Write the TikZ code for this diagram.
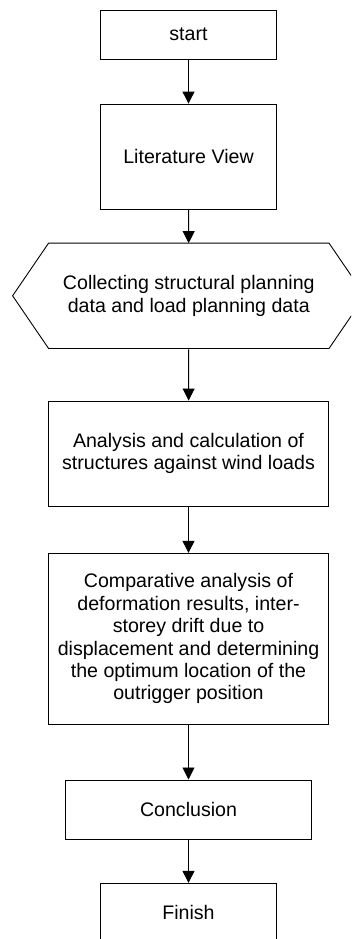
\documentclass[tikz,border=0pt]{standalone}
\usepackage{fontspec}
\setmainfont{Liberation Sans}
\usetikzlibrary{arrows.meta}
\tikzset{
	stepbox/.style={draw, line width=0.9pt, inner sep=0pt, align=center,
		font=\fontsize{19.6}{22.4}\selectfont},
	flow/.style={line width=0.9pt, -{Triangle[length=12pt, width=12pt]}}
}

\begin{document}
\begin{tikzpicture}[x=1pt, y=-1pt]
			%%%%% START %%%%%
			
			\useasboundingbox (0, 0) rectangle (351, 939);
			\clip (0, 0) rectangle (351, 939);
			
			\node[stepbox, minimum width=175.3pt, minimum height=49pt] (start) at (188.5, 34.5) {start};
			\node[stepbox, minimum width=175.3pt, minimum height=105.3pt] (lit) at (188.5, 156.7) {Literature View};
			
			% hexagon for the data step, drawn round a plain node
			\node[inner sep=0pt, align=center, minimum width=280pt, minimum height=105pt,
				font=\fontsize{19.6}{22.4}\selectfont] (collect) at (188.8, 295.8)
				{Collecting structural planning\\data and load planning data};
			\draw[line width=0.9pt] (collect.north west) -- (collect.north east)
				-- ([xshift=36pt]collect.east) -- (collect.south east)
				-- (collect.south west) -- ([xshift=-36pt]collect.west) -- cycle;
			
			\node[stepbox, minimum width=279.6pt, minimum height=105pt] (analysis) at (188.5, 453.5)
				{Analysis and calculation of\\structures against wind loads};
			\node[stepbox, minimum width=279.6pt, minimum height=171pt] (compare) at (188.5, 638.8)
				{Comparative analysis of\\deformation results, inter-\\storey drift due to\\displacement and determining\\the optimum location of the\\outrigger position};
			\node[stepbox, minimum width=245.3pt, minimum height=59.3pt] (concl) at (188.5, 809.6) {Conclusion};
			\node[stepbox, minimum width=175.3pt, minimum height=58pt] (finish) at (188.5, 912.3) {Finish};
			
			\draw[flow] (start) -- (lit);
			\draw[flow] (lit) -- (collect);
			\draw[flow] (collect) -- (analysis);
			\draw[flow] (analysis) -- (compare);
			\draw[flow] (compare) -- (concl);
			\draw[flow] (concl) -- (finish);
			
			%%%%% END %%%%%
		\end{tikzpicture}
\end{document}
